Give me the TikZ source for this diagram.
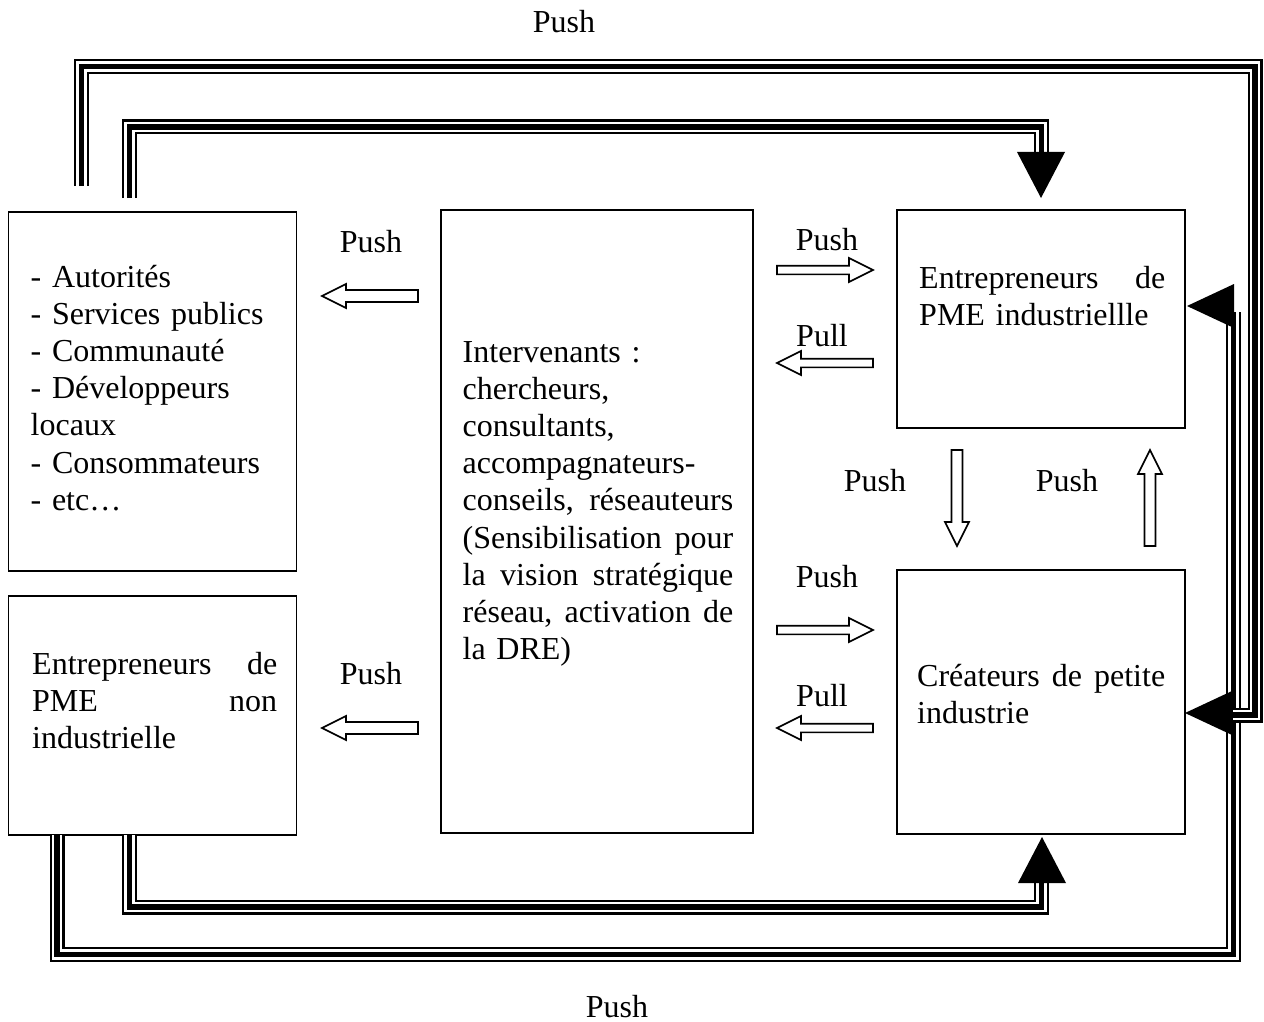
\documentclass[tikz,border=0pt]{standalone}
\usepackage{fontspec}
\setmainfont{Liberation Serif}
\begin{document}
\begin{tikzpicture}[x=1pt,y=-1pt,
  font=\fontsize{32}{37.2}\selectfont,
  box/.style={draw, line width=1.6pt, inner sep=0pt, outer sep=0pt, anchor=north west},
  boxtext/.style={anchor=base west, inner sep=0pt, align=left},
  lbl/.style={anchor=base, inner sep=0pt},
  triple/.style={draw=white, line width=10.5pt, line join=miter,
    preaction={draw=black, line width=15pt, line join=miter},
    postaction={draw=black, line width=5.5pt, line join=miter}},
  head/.style={fill=black},
  pics/blockarrow/.style={code={\draw[line width=1.6pt, fill=white, line join=miter]
    (0,-#1) -- (72,-#1) -- (72,-12) -- (96,0) -- (72,12) -- (72,#1) -- (0,#1) -- cycle;}}
]
\useasboundingbox (0,0) rectangle (1264,1022);

% boxes
\node[box, minimum width=288pt, minimum height=359pt] (A) at (8.5,212) {};
\node[box, minimum width=288pt, minimum height=239pt] (B) at (8.5,596) {};
\node[box, minimum width=312pt, minimum height=623pt] (C) at (441,210) {};
\node[box, minimum width=288pt, minimum height=218pt] (D) at (897,210) {};
\node[box, minimum width=288pt, minimum height=264pt] (E) at (897,570) {};

% box texts
\node[boxtext, text width=270pt] (tA) at (30.5,287)
  {- Autorités\\- Services publics\\- Communauté\\- Développeurs\\locaux\\- Consommateurs\\- etc…};
\node[boxtext, text width=245pt] (tB) at (32,674)
  {Entrepreneurs\hfill de\\PME\hfill non\\industrielle};
\node[boxtext, text width=270.5pt] (tC) at (462.5,362)
  {Intervenants :\\chercheurs,\\consultants,\\accompagnateurs-\\conseils,\hfill réseauteurs\\(Sensibilisation\hfill pour\\la\hfill vision\hfill stratégique\\réseau,\hfill activation\hfill de\\la DRE)};
\node[boxtext, text width=246pt] (tD) at (919,288)
  {Entrepreneurs\hfill de\\PME industriellle};
\node[boxtext, text width=248pt] (tE) at (917,686)
  {Créateurs\hfill de\hfill petite\\industrie};

% labels
\node[lbl] (l1) at (564,33) {Push};
\node[lbl] (l2) at (617,1017) {Push};
\node[lbl] (l3) at (371,252) {Push};
\node[lbl] (l4) at (827,250) {Push};
\node[lbl] (l5) at (822,346) {Pull};
\node[lbl] (l6) at (875,491) {Push};
\node[lbl] (l7) at (1067,491) {Push};
\node[lbl] (l8) at (827,587) {Push};
\node[lbl] (l9) at (822,706) {Pull};
\node[lbl] (l10) at (371,684) {Push};

% hollow block arrows
\pic[rotate=180] at (418,296) {blockarrow=6};
\pic[rotate=180] at (418,728) {blockarrow=6};
\pic at (777,270) {blockarrow=4.3};
\pic[rotate=180] at (873,363) {blockarrow=4.3};
\pic at (777,630) {blockarrow=4.3};
\pic[rotate=180] at (873,728) {blockarrow=4.3};
\pic[rotate=-90] at (957,450) {blockarrow=5.5};
\pic[rotate=90] at (1150,546) {blockarrow=5.5};

% triple-line connectors
\coordinate (b1s) at (57,835);
\coordinate (b1c) at (1233.5,954.5);
\coordinate (b1e) at (1233.5,312);
\coordinate (b2s) at (129.5,835);
\coordinate (b2c) at (1041.5,907);
\coordinate (b2e) at (1041.5,883);
\coordinate (t1s) at (81.5,186);
\coordinate (t1c) at (1255,66.5);
\coordinate (t1e) at (1233,715);
\coordinate (t2s) at (129.5,198);
\coordinate (t2c) at (1041.5,127);
\coordinate (t2e) at (1041.5,152);

\draw[triple] (b1s) |- (b1c) -- (b1e);
\draw[triple] (b2s) |- (b2c) -- (b2e);
\draw[triple] (t1s) |- (t1c) |- (t1e);
\draw[triple] (t2s) |- (t2c) -- (t2e);

% filled heads
\fill[head] (1017,152) -- (1065,152) -- (1041,198) -- cycle;
\fill[head] (1018,883) -- (1066,883) -- (1042,837) -- cycle;
\fill[head] (1234,284) -- (1234,328) -- (1187,306) -- cycle;
\fill[head] (1232,691) -- (1232,735) -- (1185,713) -- cycle;
\end{tikzpicture}
\end{document}
